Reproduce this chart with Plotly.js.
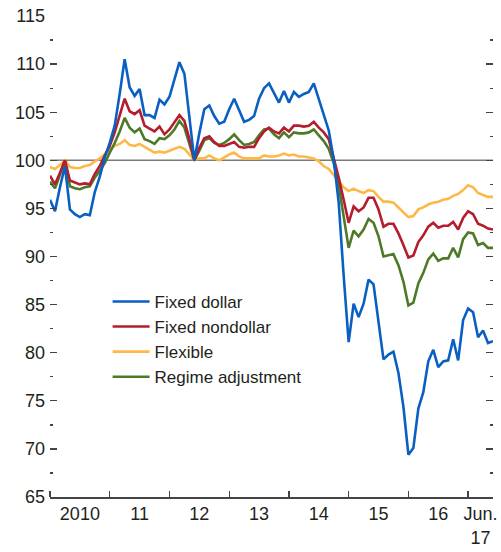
<!DOCTYPE html>
<html>
<head>
<meta charset="utf-8">
<script src="https://cdn.plot.ly/plotly-3.0.1.min.js"></script>
<style>html,body{margin:0;padding:0;background:#fff;}#chart{width:501px;height:552px;}</style>
</head>
<body>
<div id="chart"></div>
<script>
// Monthly index, Jan 2010 (0) to Jun 2017 (89)
const monthIndex = Array.from({length: 90}, (_, i) => i);

const fixedDollar = [
  95.9, 94.7, 97.2, 99.4, 94.9, 94.4, 94.1, 94.4, 94.3, 96.7, 98.3, 100.3,
  101.8, 103.6, 106.9, 110.5, 107.6, 106.7, 107.4, 104.7, 104.7, 104.4, 106.3, 105.8,
  106.6, 108.4, 110.2, 109.0, 104.6, 100.0, 102.8, 105.3, 105.7, 104.6, 103.8, 104.0,
  105.3, 106.4, 105.2, 104.0, 104.2, 104.6, 106.4, 107.5, 108.0, 107.0, 106.0, 107.2,
  106.0, 107.1, 106.6, 106.9, 107.1, 108.0, 106.4, 104.8, 103.1, 100.1, 95.6, 88.0,
  81.1, 85.1, 83.7, 85.1, 87.6, 87.1, 83.2, 79.3, 79.8, 80.1, 77.9, 74.4,
  69.4, 70.1, 74.2, 75.9, 79.1, 80.3, 78.5, 79.1, 79.2, 81.4, 79.2, 83.4,
  84.6, 84.2, 81.6, 82.3, 81.0, 81.2
];
const fixedNondollar = [
  98.4, 97.5, 98.7, 100.0, 97.9, 97.7, 97.5, 97.6, 97.5, 98.6, 99.4, 100.5,
  101.5, 102.9, 104.6, 106.4, 105.1, 104.8, 105.2, 103.6, 103.3, 103.0, 103.5, 102.7,
  103.2, 103.9, 104.7, 104.1, 102.2, 100.0, 101.3, 102.3, 102.5, 101.9, 101.5, 101.5,
  101.7, 101.9, 101.4, 101.3, 101.4, 101.4, 102.3, 103.0, 103.4, 103.0, 102.8, 103.4,
  103.0, 103.6, 103.6, 103.5, 103.6, 104.0, 103.4, 102.9, 102.2, 100.3, 98.2, 95.9,
  93.5, 95.2, 94.7, 95.1, 96.1, 96.1, 94.9, 93.1, 93.4, 93.4, 92.4, 91.2,
  89.9, 90.1, 91.5, 92.2, 93.1, 93.5, 93.0, 93.2, 93.2, 93.6, 92.8, 94.0,
  94.7, 94.4, 93.4, 93.2, 92.9, 92.8
];
const flexible = [
  99.3, 99.1, 99.5, 100.0, 99.3, 99.2, 99.2, 99.4, 99.5, 99.9, 100.2, 100.7,
  101.1, 101.5, 101.7, 102.1, 101.6, 101.5, 101.7, 101.4, 101.1, 100.8, 100.9, 100.8,
  101.0, 101.2, 101.4, 101.2, 100.6, 100.0, 100.2, 100.2, 100.5, 100.2, 100.0, 100.3,
  100.6, 100.8, 100.4, 100.2, 100.2, 100.2, 100.2, 100.5, 100.4, 100.4, 100.5, 100.7,
  100.5, 100.6, 100.4, 100.4, 100.3, 100.2, 99.9, 99.4, 99.1, 98.5, 97.9, 97.2,
  96.8, 97.05, 96.8, 96.6, 96.9, 96.8, 96.2, 95.7, 95.7, 95.6, 95.1, 94.6,
  94.1, 94.2, 94.9, 95.1, 95.4, 95.6, 95.7, 95.9, 96.0, 96.3, 96.5, 96.9,
  97.4, 97.2, 96.6, 96.4, 96.2, 96.2
];
const regimeAdjustment = [
  97.8, 97.1, 98.5, 100.0, 97.3, 97.1, 97.0, 97.2, 97.3, 98.2, 98.9, 99.7,
  100.8, 101.8, 103.0, 104.4, 103.4, 102.9, 103.3, 102.2, 102.0, 101.7, 102.3, 102.2,
  102.6, 103.2, 104.1, 103.4, 101.7, 100.0, 101.0, 102.1, 102.3, 101.8, 101.6, 101.8,
  102.2, 102.7, 102.1, 101.6, 101.7, 101.9, 102.6, 103.2, 103.3, 102.7, 102.3, 102.9,
  102.4, 102.9, 102.8, 102.8, 102.9, 103.2, 102.6, 102.0, 101.2, 99.7, 97.4, 94.2,
  90.9, 92.7, 92.1, 92.8, 93.9, 93.5, 92.1, 90.0, 90.1, 90.25, 89.1, 87.4,
  84.9, 85.2, 87.2, 88.3, 89.7, 90.3, 89.55, 89.8, 89.8, 90.9, 89.9, 91.8,
  92.5, 92.4, 91.2, 91.4, 90.9, 90.9
];

const seriesNames = ['Fixed dollar', 'Fixed nondollar', 'Flexible', 'Regime adjustment'];
const seriesColors = ['#0a5fc2', '#b51c2e', '#fdb847', '#4e7a27'];

const yearLabelPos = [6, 18, 30, 42, 54, 66, 78, 86.5];
const yearLabels = ['2010', '11', '12', '13', '14', '15', '16', 'Jun.<br>17'];
const yearBoundaries = [0, 12, 24, 36, 48, 60, 72, 84];
const yTicks = [65, 70, 75, 80, 85, 90, 95, 100, 105, 110, 115];

const FONT = '"Liberation Sans", Arial, sans-serif';
const allSeries = [fixedDollar, fixedNondollar, flexible, regimeAdjustment];
const drawOrder = [2, 3, 1, 0];

const traces = drawOrder.map(k => ({
  type: 'scatter', mode: 'lines',
  x: monthIndex, y: allSeries[k], name: seriesNames[k],
  legendrank: k + 1,
  line: {color: seriesColors[k], width: 2.6},
  hoverinfo: 'skip'
}));

const layout = {
  width: 501, height: 552,
  margin: {l: 50, r: 8, t: 16, b: 55},
  paper_bgcolor: '#fff', plot_bgcolor: '#fff',
  font: {family: FONT, size: 18, color: '#231f20'},
  showlegend: true,
  legend: {
    x: 0.13, y: 0.443, xanchor: 'left', yanchor: 'top',
    bgcolor: 'rgba(0,0,0,0)', borderwidth: 0,
    font: {family: FONT, size: 17, color: '#231f20'},
    itemwidth: 37, tracegroupgap: 0
  },
  xaxis: {
    range: [0, 89], showgrid: false, zeroline: false,
    showline: true, linecolor: '#444', linewidth: 1.5,
    tickmode: 'array', tickvals: yearLabelPos, ticktext: yearLabels,
    ticks: '', ticklabelstandoff: 0,
    tickfont: {family: FONT, size: 18, color: '#231f20'},
    minor: {tickmode: 'array', tickvals: yearBoundaries, ticks: 'inside', ticklen: 6, tickcolor: '#444', tickwidth: 1.3, showgrid: false}
  },
  yaxis: {
    range: [65, 115], showgrid: false, zeroline: false, showline: false,
    tickmode: 'array', tickvals: yTicks,
    ticks: 'inside', ticklen: 7, tickwidth: 1.3, tickcolor: '#444',
    mirror: 'ticks', ticklabelstandoff: 4,
    tickfont: {family: FONT, size: 18, color: '#231f20'},
    minor: {dtick: 2.5, tick0: 65, ticks: 'inside', ticklen: 3, tickwidth: 1.3, tickcolor: '#444', showgrid: false}
  },
  shapes: [{
    type: 'line', xref: 'paper', x0: 0, x1: 1, yref: 'y', y0: 100, y1: 100,
    line: {color: '#7a7a7a', width: 1.5}, layer: 'below'
  }]
};

Plotly.newPlot('chart', traces, layout, {staticPlot: true, displayModeBar: false});
</script>
</body>
</html>
